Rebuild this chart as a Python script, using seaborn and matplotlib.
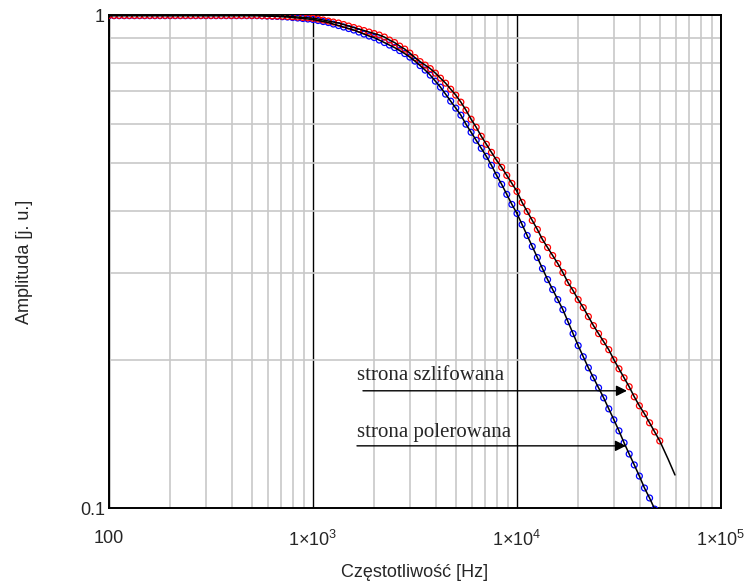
import numpy as np
import pandas as pd
import seaborn as sns
import matplotlib
matplotlib.use('Agg')
import matplotlib.pyplot as plt
from matplotlib.ticker import NullFormatter, FixedLocator, LogLocator

# measured frequencies [Hz] (sweep, shared by both samples)
freq = [100, 105.9, 112.2, 118.9, 125.9, 133.4, 141.3, 149.6, 158.5, 167.9,
        177.8, 188.4, 199.5, 211.3, 223.9, 237.1, 251.2, 266.1, 281.8, 298.5,
        316.2, 335.0, 354.8, 375.8, 398.1, 421.7, 446.7, 473.2, 501.2, 530.9,
        562.3, 595.7, 631.0, 668.3, 707.9, 749.9, 794.3, 841.4, 891.3, 944.1,
        1000, 1059, 1122, 1189, 1259, 1334, 1413, 1496, 1585, 1679,
        1778, 1884, 1995, 2113, 2239, 2371, 2512, 2661, 2818, 2985,
        3162, 3350, 3548, 3758, 3981, 4217, 4467, 4732, 5012, 5309,
        5623, 5957, 6310, 6683, 7079, 7499, 7943, 8414, 8913, 9441,
        10000, 10593, 11220, 11885, 12589, 13335, 14125, 14962, 15849, 16788,
        17783, 18836, 19953, 21135, 22387, 23714, 25119, 26607, 28184, 29854,
        31623, 33497, 35481, 37584, 39811, 42170, 44668, 47315, 50119]

# strona polerowana (blue)
amp_pol = [0.997] * 30 + [
    0.9963, 0.9953, 0.9944, 0.9935, 0.9921, 0.9907, 0.9884, 0.9861, 0.9838, 0.9815,
    0.9792, 0.9746, 0.9700, 0.9655, 0.9587, 0.9520, 0.9454, 0.9388, 0.9322, 0.9235,
    0.9149, 0.9065, 0.9001, 0.8896, 0.8793, 0.8690, 0.8589, 0.8469, 0.8351, 0.8215,
    0.8063, 0.7896, 0.7731, 0.7552, 0.7342, 0.7139, 0.6911, 0.6688, 0.6473, 0.6264,
    0.6005, 0.5784, 0.5571, 0.5366, 0.5169, 0.4956, 0.4729, 0.4534, 0.4327, 0.4129,
    0.3958, 0.3759, 0.3571, 0.3392, 0.3222, 0.3060, 0.2907, 0.2774, 0.2647, 0.2526,
    0.2388, 0.2258, 0.2135, 0.2027, 0.1925, 0.1837, 0.1753, 0.1673, 0.1589, 0.1510,
    0.1434, 0.1356, 0.1287, 0.1223, 0.1161, 0.1098, 0.1048, 0.0995, 0.0945]

# strona szlifowana (red)
amp_szl = [0.998] * 30 + [
    0.9972, 0.9963, 0.9958, 0.9953, 0.9944, 0.9935, 0.9921, 0.9907, 0.9888, 0.9870,
    0.9851, 0.9815, 0.9769, 0.9723, 0.9677, 0.9633, 0.9565, 0.9498, 0.9432, 0.9366,
    0.9300, 0.9235, 0.9171, 0.9107, 0.9022, 0.8896, 0.8793, 0.8649, 0.8529, 0.8370,
    0.8196, 0.8044, 0.7914, 0.7785, 0.7623, 0.7446, 0.7274, 0.7072, 0.6879, 0.6657,
    0.6413, 0.6147, 0.5921, 0.5677, 0.5467, 0.5266, 0.5073, 0.4910, 0.4729, 0.4555,
    0.4387, 0.4168, 0.3995, 0.3831, 0.3673, 0.3505, 0.3376, 0.3252, 0.3133, 0.3004,
    0.2867, 0.2761, 0.2647, 0.2550, 0.2445, 0.2344, 0.2258, 0.2175, 0.2095, 0.1999,
    0.1916, 0.1837, 0.1762, 0.1681, 0.1612, 0.1553, 0.1489, 0.1427, 0.1368]

# fitted model curves (black), extend a bit past the last measured point
fit_freq_ext = [55000, 59500]
fit_pol_ext = [0.0871, 0.0810]
fit_szl_ext = [0.1258, 0.1167]

xtick_vals = [100, 1e3, 1e4, 1e5]
xtick_labels = ['100', r'$\mathregular{1{\times}10^{3}}$',
                r'$\mathregular{1{\times}10^{4}}$', r'$\mathregular{1{\times}10^{5}}$']
ytick_vals = [0.1, 1]
ytick_labels = ['0.1', '1']

sns.set_style('white')
plt.rcParams['font.family'] = ['Liberation Sans', 'DejaVu Sans']
plt.rcParams['mathtext.fontset'] = 'custom'
plt.rcParams['mathtext.rm'] = 'Liberation Sans'

df = pd.DataFrame({'f': freq, 'pol': amp_pol, 'szl': amp_szl})
fit_pol = pd.DataFrame({'f': freq + fit_freq_ext, 'a': amp_pol + fit_pol_ext})
fit_szl = pd.DataFrame({'f': freq + fit_freq_ext, 'a': amp_szl + fit_szl_ext})

fig = plt.figure(figsize=(7.5, 5.82), dpi=100)
ax = fig.add_axes([0.1453, 0.1271, 0.816, 0.8471])
ax.set_xscale('log')
ax.set_yscale('log')

sns.scatterplot(data=df, x='f', y='pol', ax=ax, marker='o', s=18,
                facecolor='none', edgecolor='#0000ff', linewidth=0.9, zorder=3)
sns.scatterplot(data=df, x='f', y='szl', ax=ax, marker='o', s=18,
                facecolor='none', edgecolor='#ff0000', linewidth=0.9, zorder=3)
sns.lineplot(data=fit_pol, x='f', y='a', ax=ax, color='black', lw=1.1,
             sort=False, estimator=None, zorder=4)
sns.lineplot(data=fit_szl, x='f', y='a', ax=ax, color='black', lw=1.1,
             sort=False, estimator=None, zorder=4)

ax.set_xlim(100, 1e5)
ax.set_ylim(0.1, 1)

ax.xaxis.set_major_locator(FixedLocator(xtick_vals))
ax.set_xticklabels(xtick_labels)
ax.yaxis.set_major_locator(FixedLocator(ytick_vals))
ax.set_yticklabels(ytick_labels)
ax.xaxis.set_minor_locator(LogLocator(base=10, subs=np.arange(2, 10)))
ax.yaxis.set_minor_locator(LogLocator(base=10, subs=np.arange(2, 10)))
ax.xaxis.set_minor_formatter(NullFormatter())
ax.yaxis.set_minor_formatter(NullFormatter())
ax.tick_params(which='both', length=0)
ax.tick_params(axis='x', pad=16, labelsize=13)
ax.tick_params(axis='y', pad=3, labelsize=13)

ax.set_axisbelow(True)
ax.grid(which='minor', color='#c8c8c8', lw=1.2)
ax.grid(which='major', axis='x', color='black', lw=1.0)
ax.grid(which='major', axis='y', visible=False)
for sp in ax.spines.values():
    sp.set_color('black')
    sp.set_linewidth(1.4)

ax.set_xlabel('Częstotliwość [Hz]', fontsize=13, labelpad=10)
ax.set_ylabel('Amplituda [j. u.]', fontsize=13, labelpad=34)

# annotation arrows
ax.annotate('', xy=(34600, 0.1729), xytext=(1758, 0.1729),
            arrowprops=dict(arrowstyle='-|>', color='black', lw=1.0,
                            mutation_scale=16, shrinkA=0, shrinkB=0))
ax.annotate('', xy=(34200, 0.1337), xytext=(1643, 0.1337),
            arrowprops=dict(arrowstyle='-|>', color='black', lw=1.0,
                            mutation_scale=16, shrinkA=0, shrinkB=0))
ax.text(1643, 0.1855, 'strona szlifowana', family='Liberation Serif',
        fontsize=15, va='center', ha='left')
ax.text(1643, 0.1420, 'strona polerowana', family='Liberation Serif',
        fontsize=15, va='center', ha='left')

fig.savefig('out.png', dpi=100)
